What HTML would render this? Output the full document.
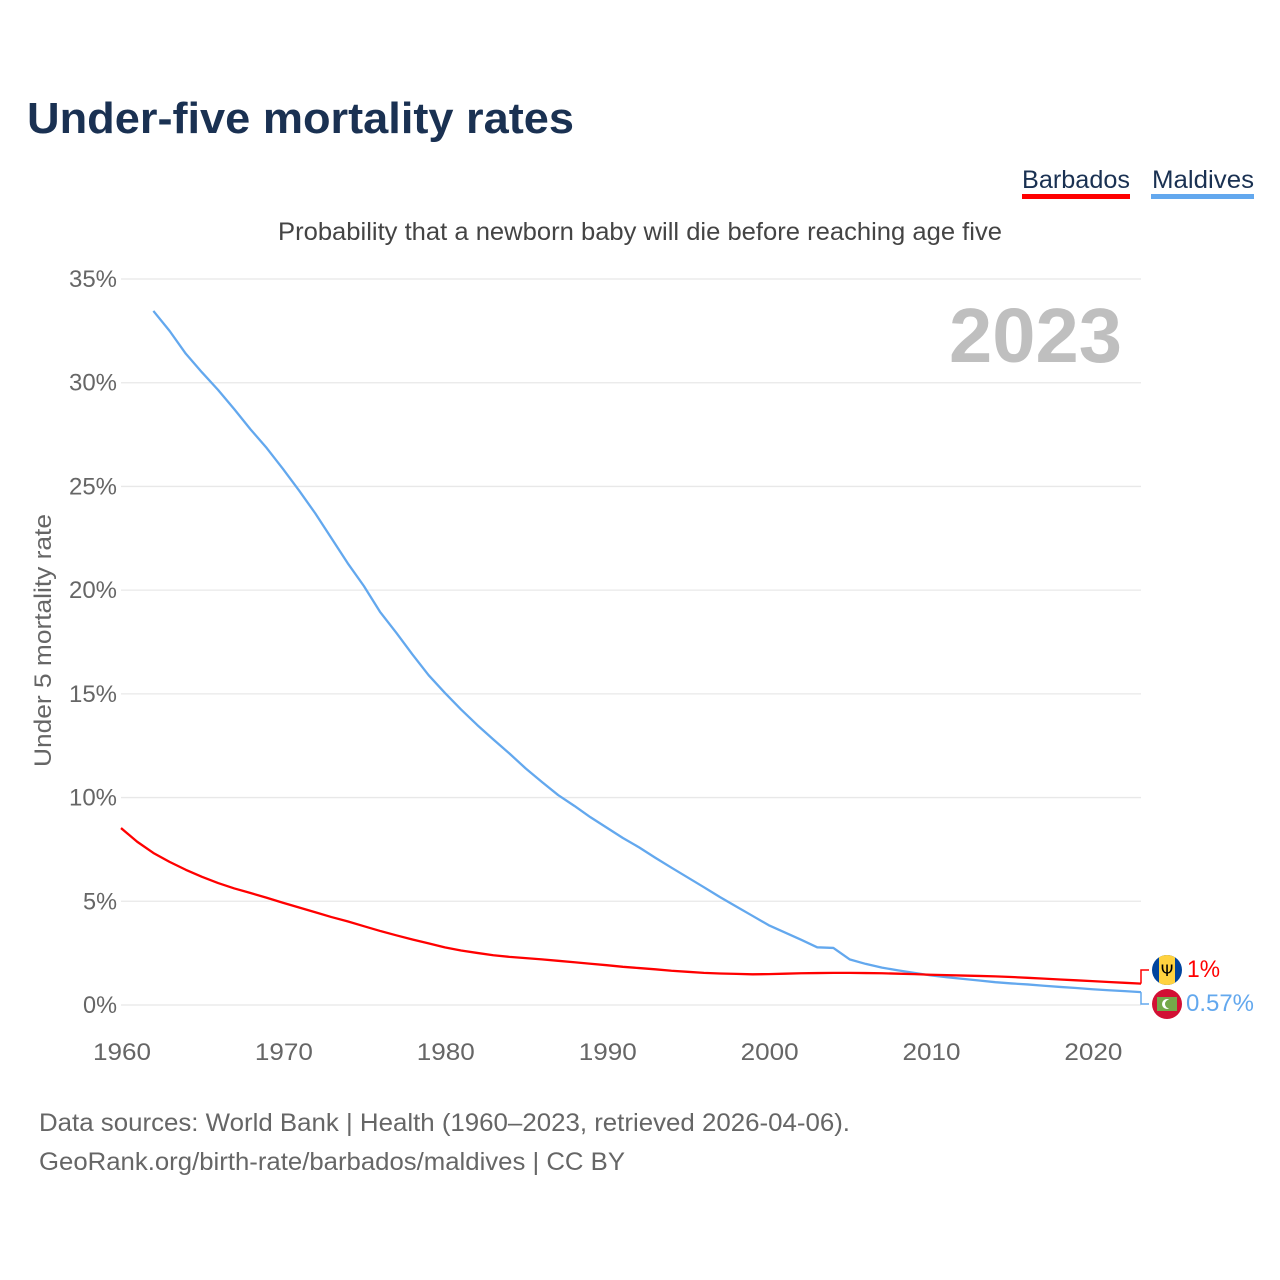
<!DOCTYPE html>
<html lang="en">
<head>
<meta charset="utf-8">
<title>Under-five mortality rates</title>
<style>
html,body{margin:0;padding:0;background:#fff;}
svg{display:block;font-family:"Liberation Sans",sans-serif;}
</style>
</head>
<body>
<svg id="chart" width="1280" height="1280" viewBox="0 0 1280 1280" xmlns="http://www.w3.org/2000/svg">
  <defs>
    <clipPath id="clip-bb"><circle cx="1167" cy="970" r="15"/></clipPath>
    <clipPath id="clip-mv"><circle cx="1167" cy="1004" r="15"/></clipPath>
  </defs>
  <rect width="1280" height="1280" fill="#fff"/>
  <text x="27" y="133" font-size="44" font-weight="700" fill="#1a3152" textLength="547" lengthAdjust="spacingAndGlyphs">Under-five mortality rates</text>

  <g>
    <text x="1022" y="188" font-size="25" fill="#1a3152" textLength="108" lengthAdjust="spacingAndGlyphs">Barbados</text>
    <rect x="1022" y="194" width="108" height="5" fill="#ff0000"/>
  </g>
  <g>
    <text x="1152" y="188" font-size="25" fill="#1a3152" textLength="102" lengthAdjust="spacingAndGlyphs">Maldives</text>
    <rect x="1151" y="194" width="103" height="5" fill="#63a8ee"/>
  </g>

  <text x="278" y="240" font-size="25" fill="#444" textLength="724" lengthAdjust="spacingAndGlyphs">Probability that a newborn baby will die before reaching age five</text>

  <g id="grid"></g>
  <g id="yticks"></g>
  <g id="xticks"></g>

  <text x="949" y="362" font-size="77" font-weight="700" fill="#bfbfbf" textLength="173" lengthAdjust="spacingAndGlyphs">2023</text>

  <text transform="translate(51,767) rotate(-90)" x="0" y="0" font-size="24" fill="#666" textLength="253" lengthAdjust="spacingAndGlyphs">Under 5 mortality rate</text>

  <g id="series"></g>

  <path id="connector-bb" d="" fill="none" stroke="#ff0000" stroke-width="1.5"/>
  <path id="connector-mv" d="" fill="none" stroke="#63a8ee" stroke-width="1.5"/>

  <g clip-path="url(#clip-bb)">
    <rect x="1152" y="955" width="30" height="30" fill="#00449e"/>
    <rect x="1159" y="955" width="16" height="30" fill="#ffd23f"/>
    <text x="1167" y="976" font-size="16" font-weight="400" text-anchor="middle" fill="#000" font-family="'DejaVu Sans',sans-serif">Ψ</text>
  </g>
  <g clip-path="url(#clip-mv)">
    <rect x="1152" y="989" width="30" height="30" fill="#d21034"/>
    <rect x="1157" y="997" width="20" height="14" fill="#74a84a"/>
    <circle cx="1167" cy="1004" r="5" fill="#fff"/>
    <circle cx="1169.5" cy="1004" r="4.5" fill="#74a84a"/>
  </g>

  <text x="1187" y="977" font-size="24" fill="#ff0000" textLength="33" lengthAdjust="spacingAndGlyphs">1%</text>
  <text x="1186" y="1011" font-size="24" fill="#63a8ee" textLength="68" lengthAdjust="spacingAndGlyphs">0.57%</text>

  <text x="39" y="1131" font-size="25" fill="#666" textLength="811" lengthAdjust="spacingAndGlyphs">Data sources: World Bank | Health (1960–2023, retrieved 2026-04-06).</text>
  <text x="39" y="1170" font-size="25" fill="#666" textLength="586" lengthAdjust="spacingAndGlyphs">GeoRank.org/birth-rate/barbados/maldives | CC BY</text>
</svg>
<script>
const firstYear = 1960;
const yTickValues = [0, 5, 10, 15, 20, 25, 30, 35];
const xTickValues = [1960, 1970, 1980, 1990, 2000, 2010, 2020];
const barbadosValues = [8.53,7.87,7.33,6.9,6.52,6.18,5.88,5.62,5.4,5.17,4.93,4.7,4.47,4.24,4.03,3.8,3.57,3.36,3.16,2.97,2.78,2.63,2.51,2.4,2.32,2.26,2.2,2.13,2.06,1.99,1.92,1.84,1.78,1.72,1.65,1.6,1.55,1.52,1.5,1.48,1.49,1.51,1.53,1.54,1.55,1.55,1.54,1.53,1.51,1.49,1.46,1.44,1.42,1.4,1.38,1.35,1.31,1.27,1.23,1.19,1.15,1.11,1.07,1.03];
const maldivesValues = [null,null,33.46,32.5,31.4,30.5,29.65,28.72,27.75,26.85,25.85,24.8,23.7,22.5,21.3,20.2,18.95,17.95,16.9,15.9,15.05,14.25,13.5,12.8,12.12,11.4,10.75,10.12,9.6,9.05,8.55,8.05,7.6,7.1,6.62,6.15,5.68,5.2,4.75,4.3,3.85,3.5,3.15,2.78,2.75,2.2,1.98,1.8,1.67,1.55,1.43,1.34,1.26,1.18,1.1,1.04,0.99,0.93,0.87,0.82,0.76,0.71,0.67,0.62];

const svgNS = 'http://www.w3.org/2000/svg';
function xScale(year){ return 121 + (year - 1960) * (1141 - 121) / 63; }
function yScale(value){ return 1005 - value * (1005 - 279) / 35; }

const gridGroup = document.getElementById('grid');
const yTickGroup = document.getElementById('yticks');
const xTickGroup = document.getElementById('xticks');
const seriesGroup = document.getElementById('series');

yTickValues.forEach(function(v){
  const line = document.createElementNS(svgNS, 'line');
  
  
  line.setAttribute('x1', xScale(1960));
  line.setAttribute('x2', xScale(2023));
  line.setAttribute('y1', yScale(v));
  line.setAttribute('y2', yScale(v));
  line.setAttribute('stroke', '#e8e8e8');
  line.setAttribute('stroke-width', '1.3');
  gridGroup.appendChild(line);

  const label = String(v) + '%';
  const t = document.createElementNS(svgNS, 'text');
  
  
  t.setAttribute('x', 117 - (label.length === 3 ? 48 : 34));
  t.setAttribute('y', yScale(v) + 8);
  t.setAttribute('font-size', '24');
  t.setAttribute('fill', '#666');
  t.setAttribute('textLength', label.length === 3 ? 48 : 34);
  t.setAttribute('lengthAdjust', 'spacingAndGlyphs');
  t.textContent = label;
  yTickGroup.appendChild(t);
});

xTickValues.forEach(function(y){
  const t = document.createElementNS(svgNS, 'text');
  
  
  t.setAttribute('x', xScale(y) - 28);
  t.setAttribute('y', 1060);
  t.setAttribute('font-size', '24');
  t.setAttribute('fill', '#666');
  t.setAttribute('textLength', 58);
  t.setAttribute('lengthAdjust', 'spacingAndGlyphs');
  t.textContent = String(y);
  xTickGroup.appendChild(t);
});

function linePath(values){
  const parts = [];
  values.forEach(function(v, i){
    if (v === null) return;
    parts.push((parts.length ? 'L' : 'M') + xScale(firstYear + i).toFixed(2) + ' ' + yScale(v).toFixed(2));
  });
  return parts.join(' ');
}

const maldivesLine = document.createElementNS(svgNS, 'path');


maldivesLine.setAttribute('d', linePath(maldivesValues));
maldivesLine.setAttribute('fill', 'none');
maldivesLine.setAttribute('stroke', '#63a8ee');
maldivesLine.setAttribute('stroke-width', '2.3');
maldivesLine.setAttribute('stroke-linejoin', 'round');
seriesGroup.appendChild(maldivesLine);

const barbadosLine = document.createElementNS(svgNS, 'path');


barbadosLine.setAttribute('d', linePath(barbadosValues));
barbadosLine.setAttribute('fill', 'none');
barbadosLine.setAttribute('stroke', '#ff0000');
barbadosLine.setAttribute('stroke-width', '2.3');
barbadosLine.setAttribute('stroke-linejoin', 'round');
seriesGroup.appendChild(barbadosLine);

const endX = xScale(2023);
document.getElementById('connector-bb').setAttribute('d', 'M' + endX + ' ' + yScale(barbadosValues[63]).toFixed(2) + ' L' + endX + ' 970 L1149 970');
document.getElementById('connector-mv').setAttribute('d', 'M' + endX + ' ' + yScale(maldivesValues[63]).toFixed(2) + ' L' + endX + ' 1004 L1149 1004');
</script>
</body>
</html>
